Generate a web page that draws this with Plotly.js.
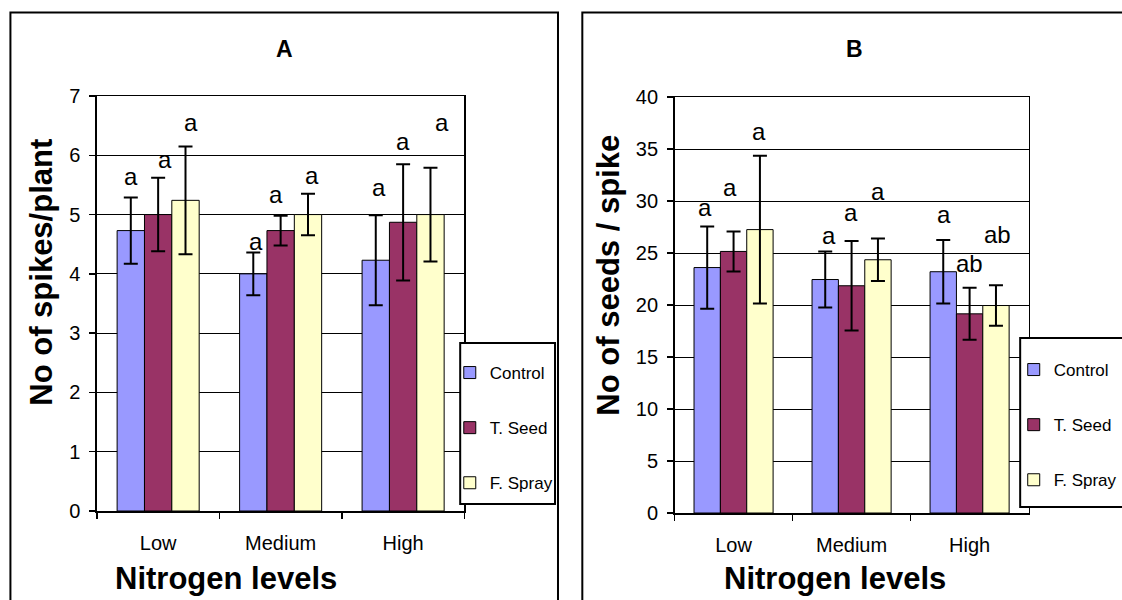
<!DOCTYPE html>
<html><head><meta charset="utf-8">
<script src="https://cdn.plot.ly/plotly-3.0.1.min.js"></script>
<style>html,body{margin:0;padding:0;background:#fff;} #chart{width:1122px;height:600px;}</style>
</head><body><div id="chart"></div>
<script>
// ---------- DATA ----------
const categories = ["Low", "Medium", "High"];
const seriesNames = ["Control", "T. Seed", "F. Spray"];

// Panel A: No of spikes/plant
const spikesControl = [4.73, 4.00, 4.23];
const spikesTSeed   = [5.00, 4.73, 4.87];
const spikesFSpray  = [5.24, 5.00, 5.00];
const spikesErrControl = [0.56, 0.36, 0.76];
const spikesErrTSeed   = [0.62, 0.25, 0.98];
const spikesErrFSpray  = [0.91, 0.35, 0.79];
const spikesLetterControl = ["a", "a", "a"];
const spikesLetterTSeed   = ["a", "a", "a"];
const spikesLetterFSpray  = ["a", "a", "a"];
const spikesLetterYControl = [5.60, 4.49, 5.40];
const spikesLetterYTSeed   = [5.87, 5.29, 6.18];
const spikesLetterYFSpray  = [6.51, 5.61, 6.51];

// Panel B: No of seeds / spike
const seedsControl = [23.60, 22.45, 23.20];
const seedsTSeed   = [25.15, 21.85, 19.15];
const seedsFSpray  = [27.25, 24.35, 19.95];
const seedsErrControl = [3.95, 2.70, 3.05];
const seedsErrTSeed   = [1.92, 4.30, 2.50];
const seedsErrFSpray  = [7.10, 2.05, 1.95];
const seedsLetterControl = ["a", "a", "a"];
const seedsLetterTSeed   = ["a", "a", "ab"];
const seedsLetterFSpray  = ["a", "a", "ab"];
const seedsLetterYControl = [29.04, 26.44, 28.37];
const seedsLetterYTSeed   = [30.99, 28.59, 23.72];
const seedsLetterYFSpray  = [36.44, 30.67, 26.47];

const yTicksA = [0, 1, 2, 3, 4, 5, 6, 7];
const yTicksB = [0, 5, 10, 15, 20, 25, 30, 35, 40];

// ---------- STYLE ----------
const W = 1122, H = 600;
const px = v => v / W;
const py = v => 1 - v / H;
const FONT = "Liberation Sans, Arial, sans-serif";
const colors = ["#9999FF", "#993366", "#FFFFCC"];
const BARGAP = 0.33;
const slot = (1 - BARGAP) / 3;
// small horizontal nudges of letter labels (px)
const nudgeA = [[0, 3, 3], [7, -5, 0], [5, 4, 12]];
const nudgeB = [[-2, 4, 1], [-4, -1, 0], [-1, 0, 2]];

const valsA = [spikesControl, spikesTSeed, spikesFSpray];
const errsA = [spikesErrControl, spikesErrTSeed, spikesErrFSpray];
const valsB = [seedsControl, seedsTSeed, seedsFSpray];
const errsB = [seedsErrControl, seedsErrTSeed, seedsErrFSpray];
const lettersA = [spikesLetterControl, spikesLetterTSeed, spikesLetterFSpray];
const lettersYA = [spikesLetterYControl, spikesLetterYTSeed, spikesLetterYFSpray];
const lettersB = [seedsLetterControl, seedsLetterTSeed, seedsLetterFSpray];
const lettersYB = [seedsLetterYControl, seedsLetterYTSeed, seedsLetterYFSpray];

const traces = [];
function addBars(vals, errs, xa, ya, leg, tag) {
  vals.forEach((v, j) => {
    traces.push({
      type: "bar", name: seriesNames[j], x: categories, y: v,
      xaxis: xa, yaxis: ya, legend: leg, legendgroup: tag + j,
      marker: { color: colors[j], line: { color: "#000", width: 1 } },
      error_y: { type: "data", array: errs[j], visible: true, color: "#000", thickness: 2, width: 7 },
      hoverinfo: "skip"
    });
  });
}
addBars(valsA, errsA, "x", "y", "legend", "a");
addBars(valsB, errsB, "x2", "y2", "legend2", "b");

const annotations = [];
function addLetters(letters, ys, nudge, xref, yref) {
  letters.forEach((arr, j) => {
    arr.forEach((t, i) => {
      annotations.push({
        xref: xref, yref: yref, x: i + (j - 1) * slot, y: ys[j][i],
        text: t, showarrow: false, xanchor: "center", yanchor: "middle",
        xshift: nudge[j][i], yshift: 3,
        font: { family: FONT, size: 24, color: "#000" }
      });
    });
  });
}
addLetters(lettersA, lettersYA, nudgeA, "x", "y");
addLetters(lettersB, lettersYB, nudgeB, "x2", "y2");

function txt(text, x, y, size, bold, angle) {
  annotations.push({
    xref: "paper", yref: "paper", x: px(x), y: py(y), text: bold ? "<b>" + text + "</b>" : text,
    showarrow: false, xanchor: "center", yanchor: "middle", textangle: angle || 0,
    font: { family: FONT, size: size, color: "#000" }
  });
}
txt("A", 287, 49, 23, true);
txt("B", 861, 49, 23, true);
txt("No of spikes/plant", 41, 272, 31, true, -90);
txt("No of seeds / spike", 613, 275, 31, true, -90);
txt("Nitrogen levels", 228, 578, 31, true);
txt("Nitrogen levels", 841, 578, 31, true);

function xAxis(d0, d1, anchor) {
  return {
    domain: [px(d0), px(d1)], anchor: anchor, type: "category", categoryarray: categories,
    showgrid: false, zeroline: false, showline: true, linecolor: "#000", linewidth: 1.5, mirror: true,
    ticks: "outside", tickson: "boundaries", ticklen: 6, tickwidth: 1.5, tickcolor: "#000",
    tickfont: { family: FONT, size: 20, color: "#000" }, ticklabelstandoff: 13, fixedrange: true
  };
}
function yAxis(top, bottom, range, tickvals, anchor) {
  return {
    domain: [py(bottom), py(top)], anchor: anchor, range: range, tickvals: tickvals,
    showgrid: true, gridcolor: "#000", gridwidth: 1, zeroline: false,
    showline: true, linecolor: "#000", linewidth: 1.5, mirror: true,
    ticks: "outside", ticklen: 6, tickwidth: 1.5, tickcolor: "#000",
    tickfont: { family: FONT, size: 20, color: "#000" }, ticklabelstandoff: 5, fixedrange: true
  };
}

const shapes = [
  { type: "rect", xref: "paper", yref: "paper", x0: px(10.5), x1: px(562), y0: -0.1, y1: py(12.5),
    line: { color: "#000", width: 2 }, fillcolor: "rgba(0,0,0,0)", layer: "above" },
  { type: "rect", xref: "paper", yref: "paper", x0: px(586.5), x1: px(1140), y0: -0.1, y1: py(12.5),
    line: { color: "#000", width: 2 }, fillcolor: "rgba(0,0,0,0)", layer: "above" },
  { type: "rect", xref: "paper", yref: "paper", x0: px(463.5), x1: px(559), y0: py(504), y1: py(343),
    line: { color: "#000", width: 2 }, fillcolor: "#fff", layer: "above" },
  { type: "rect", xref: "paper", yref: "paper", x0: px(1027.5), x1: px(1140), y0: py(507), y1: py(338),
    line: { color: "#000", width: 2 }, fillcolor: "#fff", layer: "above" }
];

function legendCfg(x, y) {
  return {
    x: px(x), y: py(y), xanchor: "left", yanchor: "top", traceorder: "grouped",
    tracegroupgap: 30, bgcolor: "rgba(0,0,0,0)", borderwidth: 0,
    font: { family: FONT, size: 17, color: "#000" }
  };
}

const layout = {
  width: W, height: H, margin: { l: 0, r: 0, t: 0, b: 0 },
  paper_bgcolor: "#fff", plot_bgcolor: "#fff",
  barmode: "group", bargap: BARGAP, bargroupgap: 0, showlegend: true,
  font: { family: FONT, color: "#000" },
  xaxis: xAxis(97.6, 467.7, "y"),
  yaxis: yAxis(96, 511, [0, 7], yTicksA, "x"),
  xaxis2: xAxis(679.4, 1036, "y2"),
  yaxis2: yAxis(97, 513, [0, 40], yTicksB, "x2"),
  legend: legendCfg(453, 355),
  legend2: legendCfg(1021, 352),
  shapes: shapes,
  annotations: annotations
};

Plotly.newPlot("chart", traces, layout, { staticPlot: true, displayModeBar: false });
</script>
</body></html>
